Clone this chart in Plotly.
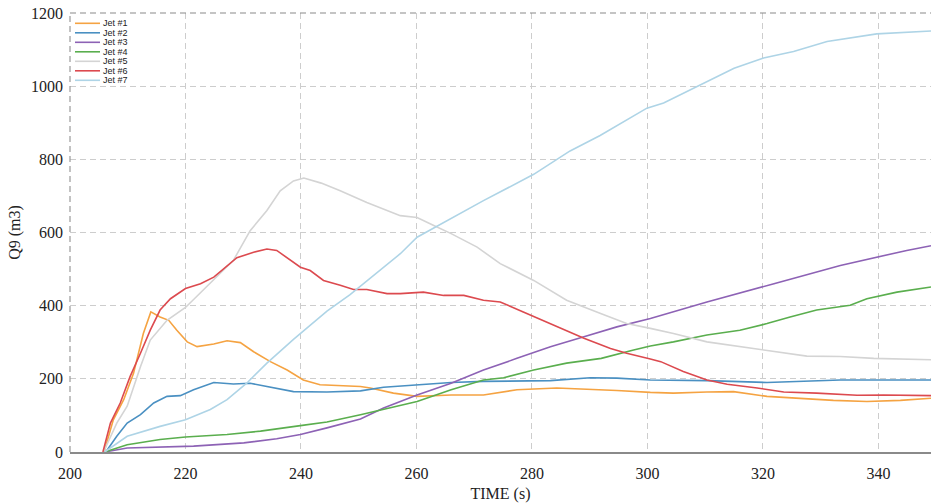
import plotly.graph_objects as go

names = ["Jet #1", "Jet #2", "Jet #3", "Jet #4", "Jet #5", "Jet #6", "Jet #7"]
colors = ["#f5a342", "#4a90c2", "#8d62b5", "#5aae4e", "#d4d4d4", "#dc4a4f", "#aed4e6"]

t_jet1 = [205.9, 207.5, 209.3, 211.0, 212.7, 214.0, 215.6, 217.1, 218.5, 220.3, 222.0, 224.9, 227.2, 229.5,
          231.8, 234.7, 237.6, 240.4, 243.3, 247.4, 250.3, 252.0, 256.0, 260.1, 266.0, 271.6, 277.4, 284.3,
          290.1, 294.7, 300.5, 304.5, 310.3, 314.9, 320.7, 326.4, 332.2, 338.0, 343.8, 349.1]
q_jet1 = [0, 88, 143, 215, 324, 383, 369, 360, 333, 301, 288, 295, 304, 299,
          274, 247, 224, 197, 184, 181, 179, 175, 161, 152, 156, 156, 170, 175,
          172, 168, 163, 161, 164, 165, 152, 147, 141, 138, 141, 147]

t_jet2 = [206.2, 208.1, 209.9, 212.2, 214.5, 216.8, 219.1, 221.4, 224.9, 228.3, 231.2, 234.1, 238.7, 244.5,
          250.3, 254.3, 260.1, 266.0, 271.6, 277.4, 283.2, 290.1, 294.7, 300.5, 310.3, 320.7, 333.4, 349.1]
q_jet2 = [0, 43, 79, 102, 134, 152, 154, 170, 190, 186, 188, 179, 165, 164,
          167, 177, 184, 190, 193, 194, 195, 203, 202, 197, 195, 190, 197, 197]

t_jet3 = [206.0, 209.9, 221.4, 230.1, 235.8, 239.9, 244.5, 250.3, 254.3, 260.1, 266.0, 271.6, 277.4, 283.2,
          289.0, 294.7, 300.5, 310.3, 321.9, 333.4, 344.9, 349.1]
q_jet3 = [0, 11, 16, 25, 36, 48, 66, 90, 120, 156, 188, 224, 256, 288,
          315, 342, 365, 410, 460, 510, 551, 564]

t_jet4 = [206.0, 209.9, 215.6, 220.0, 227.2, 233.0, 239.9, 244.5, 250.3, 254.3, 260.1, 266.0, 271.6, 275.1,
          280.3, 286.0, 292.0, 297.6, 300.5, 304.5, 310.3, 316.0, 320.7, 324.7, 329.3, 335.1, 338.0, 343.2, 349.1]
q_jet4 = [0, 20, 34, 41, 48, 57, 72, 82, 102, 116, 138, 170, 197, 203,
          224, 243, 256, 279, 290, 301, 320, 333, 351, 369, 388, 401, 419, 437, 451]

t_jet5 = [205.8, 208.1, 209.9, 212.2, 213.9, 216.8, 220.0, 222.6, 225.5, 228.3, 231.2, 234.1, 236.4, 238.7,
          240.5, 243.5, 246.8, 251.4, 257.2, 260.1, 263.0, 266.0, 270.5, 274.5, 280.3, 286.0, 292.0, 296.4,
          300.5, 304.5, 310.3, 316.0, 321.9, 327.6, 333.4, 339.2, 349.1]
q_jet5 = [0, 79, 125, 233, 306, 360, 395, 435, 480, 524, 605, 660, 714, 741,
          749, 735, 714, 682, 646, 641, 619, 597, 560, 515, 469, 415, 378, 351,
          338, 324, 301, 288, 274, 262, 261, 256, 252]

t_jet6 = [205.7, 207.0, 208.7, 210.4, 212.2, 213.9, 215.6, 217.4, 220.0, 222.6, 224.9, 228.9, 231.8, 234.1,
          235.8, 239.9, 241.6, 243.9, 246.8, 249.1, 251.4, 254.9, 257.2, 261.2, 264.7, 268.2, 271.6, 274.5,
          278.5, 283.2, 289.0, 293.6, 296.4, 300.5, 302.3, 306.2, 310.3, 313.8, 319.0, 323.6, 329.3, 336.3,
          340.9, 349.1]
q_jet6 = [0, 79, 134, 206, 270, 333, 388, 419, 447, 460, 478, 531, 546, 555,
          551, 505, 496, 469, 456, 444, 444, 433, 433, 437, 428, 428, 415, 410,
          383, 351, 311, 283, 270, 254, 247, 220, 197, 185, 175, 164, 161, 155,
          156, 154]

t_jet7 = [206.0, 209.9, 215.6, 220.0, 224.3, 227.2, 230.6, 234.1, 238.7, 244.5, 248.5, 257.2, 260.1, 271.6,
          280.3, 286.6, 291.8, 299.9, 302.8, 309.2, 315.0, 320.1, 325.3, 331.1, 339.7, 349.1]
q_jet7 = [0, 43, 70, 88, 116, 143, 188, 243, 308, 385, 430, 542, 587, 687,
          759, 823, 865, 940, 954, 1004, 1049, 1077, 1095, 1122, 1143, 1151]

x_ticks = [200, 220, 240, 260, 280, 300, 320, 340]
y_ticks = [0, 200, 400, 600, 800, 1000, 1200]

series_t = [t_jet1, t_jet2, t_jet3, t_jet4, t_jet5, t_jet6, t_jet7]
series_q = [q_jet1, q_jet2, q_jet3, q_jet4, q_jet5, q_jet6, q_jet7]

fig = go.Figure()
for name, c, tt, qq in zip(names, colors, series_t, series_q):
    fig.add_trace(go.Scatter(x=tt, y=qq, mode="lines", name=name,
                             line=dict(color=c, width=1.6), showlegend=False))

serif = "Liberation Serif, Times New Roman, serif"
fig.update_layout(
    width=931, height=503,
    margin=dict(l=70, r=0, t=13, b=51),
    paper_bgcolor="white", plot_bgcolor="white",
    font=dict(family=serif, size=16, color="#222"),
    xaxis=dict(range=[200, 349.1], tickvals=x_ticks, showgrid=True, gridcolor="#cdcdcd",
               griddash="6px,4px", gridwidth=1, zeroline=False, showline=True, linecolor="#8a8a8a",
               linewidth=1.5, ticks="", ticklabelstandoff=6,
               title=dict(text="TIME (s)", standoff=10, font=dict(family=serif, size=16))),
    yaxis=dict(range=[0, 1200], tickvals=y_ticks, showgrid=True, gridcolor="#cdcdcd",
               griddash="6px,4px", gridwidth=1, zeroline=False, showline=False, ticks="",
               ticklabelstandoff=6,
               title=dict(text="Q9 (m3)", standoff=6, font=dict(family=serif, size=16))),
)

# frame: dashed left and top edges
fig.add_shape(type="line", xref="paper", yref="paper", x0=0, x1=0, y0=0, y1=1,
              line=dict(color="#9a9a9a", width=1.2, dash="6px,4px"))
fig.add_shape(type="line", xref="paper", yref="paper", x0=0, x1=1, y0=1, y1=1,
              line=dict(color="#8a8a8a", width=1.2, dash="6px,4px"))

# compact legend (top-left)
plot_h = 439.0
for i, (name, c) in enumerate(zip(names, colors)):
    py = 10.3 + 9.5 * i
    yp = 1 - py / plot_h
    fig.add_shape(type="line", xref="paper", yref="paper", x0=5 / 861, x1=30 / 861, y0=yp, y1=yp,
                  line=dict(color=c, width=1.6))
    fig.add_annotation(xref="paper", yref="paper", x=31 / 861, y=yp, text=name, showarrow=False,
                       xanchor="left", yanchor="middle",
                       font=dict(family="Liberation Sans, Arial, sans-serif", size=9, color="#222"))

fig.write_html("out.html")
